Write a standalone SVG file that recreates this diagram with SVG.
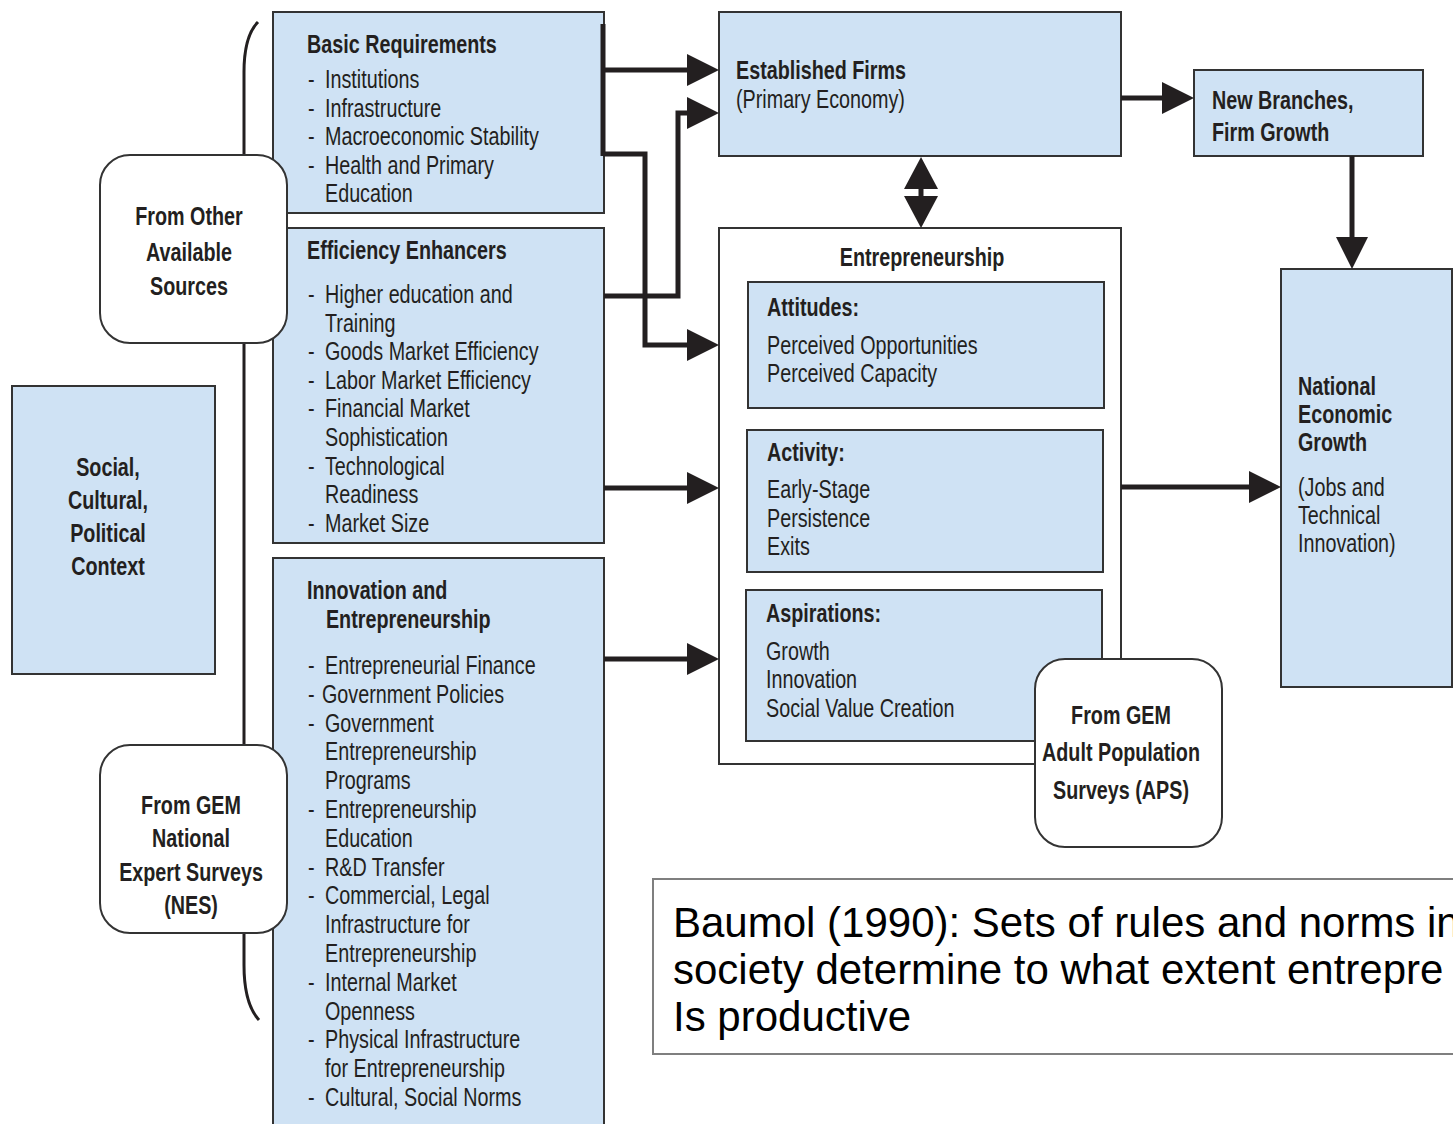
<svg xmlns="http://www.w3.org/2000/svg" width="1453" height="1124" viewBox="0 0 1453 1124">
<defs>
<style>
.bg{fill:#ffffff}
.box{fill:#cfe2f4;stroke:#333333;stroke-width:2}
.wbox{fill:#ffffff;stroke:#333333;stroke-width:2}
.rbox{fill:#ffffff;stroke:#333333;stroke-width:2}
.t{font-family:"Liberation Sans",Arial,sans-serif;font-size:25px;fill:#231f20}
.b{font-weight:bold}
.c{text-anchor:middle}
.con{fill:none;stroke:#231f20;stroke-width:5;stroke-linejoin:miter}
.brk{fill:none;stroke:#231f20;stroke-width:3}
.note{font-family:"Liberation Sans",Arial,sans-serif;font-size:42px;fill:#000000}
</style>
<marker id="ah" viewBox="0 0 32 32" refX="16" refY="16" markerWidth="32" markerHeight="32" markerUnits="userSpaceOnUse" orient="auto"><path d="M0,0 L32,16 L0,32 z" fill="#231f20"/></marker>
<marker id="ab" viewBox="0 0 32 34" refX="0" refY="17" markerWidth="32" markerHeight="34" markerUnits="userSpaceOnUse" orient="auto-start-reverse"><path d="M0,0 L32,17 L0,34 z" fill="#231f20"/></marker>
</defs>
<rect class="bg" x="0" y="0" width="1453" height="1124"/>

<path class="brk" d="M258,22 C248,32 244,50 244,72 L244,965 C244,990 248,1008 259,1020"/>

<g id="basic-requirements">
<rect class="box" x="273" y="12" width="331" height="201"/>
<g transform="translate(307,0) scale(0.79,1)">
<text class="t b" x="0" y="53">Basic Requirements</text>
<text class="t" x="1.3" y="88">-</text><text class="t" x="22.8" y="88">Institutions</text>
<text class="t" x="1.3" y="117">-</text><text class="t" x="22.8" y="117">Infrastructure</text>
<text class="t" x="1.3" y="145">-</text><text class="t" x="22.8" y="145">Macroeconomic Stability</text>
<text class="t" x="1.3" y="174">-</text><text class="t" x="22.8" y="174">Health and Primary</text>
<text class="t" x="22.8" y="202">Education</text>
</g>
</g>

<g id="efficiency-enhancers">
<rect class="box" x="273" y="228" width="331" height="315"/>
<g transform="translate(307,0) scale(0.79,1)">
<text class="t b" x="0" y="259">Efficiency Enhancers</text>
<text class="t" x="1.3" y="303">-</text><text class="t" x="22.8" y="303">Higher education and</text>
<text class="t" x="22.8" y="332">Training</text>
<text class="t" x="1.3" y="360">-</text><text class="t" x="22.8" y="360">Goods Market Efficiency</text>
<text class="t" x="1.3" y="389">-</text><text class="t" x="22.8" y="389">Labor Market Efficiency</text>
<text class="t" x="1.3" y="417">-</text><text class="t" x="22.8" y="417">Financial Market</text>
<text class="t" x="22.8" y="446">Sophistication</text>
<text class="t" x="1.3" y="475">-</text><text class="t" x="22.8" y="475">Technological</text>
<text class="t" x="22.8" y="503">Readiness</text>
<text class="t" x="1.3" y="532">-</text><text class="t" x="22.8" y="532">Market Size</text>
</g>
</g>

<g id="innovation-entrepreneurship">
<rect class="box" x="273" y="558" width="331" height="580"/>
<g transform="translate(307,0) scale(0.79,1)">
<text class="t b" x="0" y="599">Innovation and</text>
<text class="t b" x="24" y="628">Entrepreneurship</text>
<text class="t" x="1.3" y="674">-</text><text class="t" x="22.8" y="674">Entrepreneurial Finance</text>
<text class="t" x="1.3" y="703">-</text><text class="t" x="19" y="703">Government Policies</text>
<text class="t" x="1.3" y="732">-</text><text class="t" x="22.8" y="732">Government</text>
<text class="t" x="22.8" y="760">Entrepreneurship</text>
<text class="t" x="22.8" y="789">Programs</text>
<text class="t" x="1.3" y="818">-</text><text class="t" x="22.8" y="818">Entrepreneurship</text>
<text class="t" x="22.8" y="847">Education</text>
<text class="t" x="1.3" y="876">-</text><text class="t" x="22.8" y="876">R&amp;D Transfer</text>
<text class="t" x="1.3" y="904">-</text><text class="t" x="22.8" y="904">Commercial, Legal</text>
<text class="t" x="22.8" y="933">Infrastructure for</text>
<text class="t" x="22.8" y="962">Entrepreneurship</text>
<text class="t" x="1.3" y="991">-</text><text class="t" x="22.8" y="991">Internal Market</text>
<text class="t" x="22.8" y="1020">Openness</text>
<text class="t" x="1.3" y="1048">-</text><text class="t" x="22.8" y="1048">Physical Infrastructure</text>
<text class="t" x="22.8" y="1077">for Entrepreneurship</text>
<text class="t" x="1.3" y="1106">-</text><text class="t" x="22.8" y="1106">Cultural, Social Norms</text>
</g>
</g>

<g id="social-context">
<rect class="box" x="12" y="386" width="203" height="288"/>
<g transform="translate(108,0) scale(0.79,1)">
<text class="t b c" x="0" y="476">Social,</text>
<text class="t b c" x="0" y="509">Cultural,</text>
<text class="t b c" x="0" y="542">Political</text>
<text class="t b c" x="0" y="575">Context</text>
</g>
</g>

<g id="established-firms">
<rect class="box" x="719" y="12" width="402" height="144"/>
<g transform="translate(736,0) scale(0.79,1)">
<text class="t b" x="0" y="79">Established Firms</text>
<text class="t" x="0" y="108">(Primary Economy)</text>
</g>
</g>

<g id="new-branches">
<rect class="box" x="1194" y="70" width="229" height="86"/>
<g transform="translate(1212,0) scale(0.79,1)">
<text class="t b" x="0" y="109">New Branches,</text>
<text class="t b" x="0" y="141">Firm Growth</text>
</g>
</g>

<g id="entrepreneurship">
<rect class="wbox" x="719" y="228" width="402" height="536"/>
<g transform="translate(922,0) scale(0.79,1)">
<text class="t b c" x="0" y="266">Entrepreneurship</text>
</g>
</g>

<g id="attitudes">
<rect class="box" x="748" y="282" width="356" height="126"/>
<g transform="translate(767,0) scale(0.79,1)">
<text class="t b" x="0" y="316">Attitudes:</text>
<text class="t" x="0" y="354">Perceived Opportunities</text>
<text class="t" x="0" y="382">Perceived Capacity</text>
</g>
</g>

<g id="activity">
<rect class="box" x="747" y="430" width="356" height="142"/>
<g transform="translate(767,0) scale(0.79,1)">
<text class="t b" x="0" y="461">Activity:</text>
<text class="t" x="0" y="498">Early-Stage</text>
<text class="t" x="0" y="527">Persistence</text>
<text class="t" x="0" y="555">Exits</text>
</g>
</g>

<g id="aspirations">
<rect class="box" x="746" y="590" width="356" height="151"/>
<g transform="translate(766,0) scale(0.79,1)">
<text class="t b" x="0" y="622">Aspirations:</text>
<text class="t" x="0" y="660">Growth</text>
<text class="t" x="0" y="688">Innovation</text>
<text class="t" x="0" y="717">Social Value Creation</text>
</g>
</g>

<g id="national-growth">
<rect class="box" x="1281" y="269" width="171" height="418"/>
<g transform="translate(1298,0) scale(0.79,1)">
<text class="t b" x="0" y="395">National</text>
<text class="t b" x="0" y="423">Economic</text>
<text class="t b" x="0" y="451">Growth</text>
<text class="t" x="0" y="496">(Jobs and</text>
<text class="t" x="0" y="524">Technical</text>
<text class="t" x="0" y="552">Innovation)</text>
</g>
</g>

<g id="connectors">
<path class="con" d="M603,24 V156"/>
<path class="con" d="M603,70 H703" marker-end="url(#ah)"/>
<path class="con" d="M603,154 H645 V345 H703" marker-end="url(#ah)"/>
<path class="con" d="M604,296 H678 V113 H703" marker-end="url(#ah)"/>
<path class="con" d="M604,488 H703" marker-end="url(#ah)"/>
<path class="con" d="M604,659 H703" marker-end="url(#ah)"/>
<path class="con" d="M1121,98 H1178" marker-end="url(#ah)"/>
<path class="con" d="M1352,156 V253" marker-end="url(#ah)"/>
<path class="con" d="M1121,487 H1265" marker-end="url(#ah)"/>
<path class="con" d="M921,189 V196" stroke-width="4" marker-start="url(#ab)" marker-end="url(#ab)"/>
</g>

<g id="from-other-sources">
<rect class="rbox" x="100" y="155" width="187" height="188" rx="30" ry="30"/>
<g transform="translate(189,0) scale(0.79,1)">
<text class="t b c" x="0" y="225">From Other</text>
<text class="t b c" x="0" y="261">Available</text>
<text class="t b c" x="0" y="295">Sources</text>
</g>
</g>

<g id="from-gem-nes">
<rect class="rbox" x="100" y="745" width="187" height="188" rx="30" ry="30"/>
<g transform="translate(191,0) scale(0.79,1)">
<text class="t b c" x="0" y="814">From GEM</text>
<text class="t b c" x="0" y="847">National</text>
<text class="t b c" x="0" y="881">Expert Surveys</text>
<text class="t b c" x="0" y="914">(NES)</text>
</g>
</g>

<g id="from-gem-aps">
<rect class="rbox" x="1035" y="659" width="187" height="188" rx="30" ry="30"/>
<g transform="translate(1121,0) scale(0.79,1)">
<text class="t b c" x="0" y="724">From GEM</text>
<text class="t b c" x="0" y="761">Adult Population</text>
<text class="t b c" x="0" y="799">Surveys (APS)</text>
</g>
</g>

<g id="baumol-note">
<rect x="653" y="879" width="820" height="175" fill="#ffffff" stroke="#7f7f7f" stroke-width="2"/>
<text class="note" x="673" y="937">Baumol (1990): Sets of rules and norms in</text>
<text class="note" x="673" y="984">society determine to what extent entrepre</text>
<text class="note" x="673" y="1031">Is productive</text>
</g>
</svg>
